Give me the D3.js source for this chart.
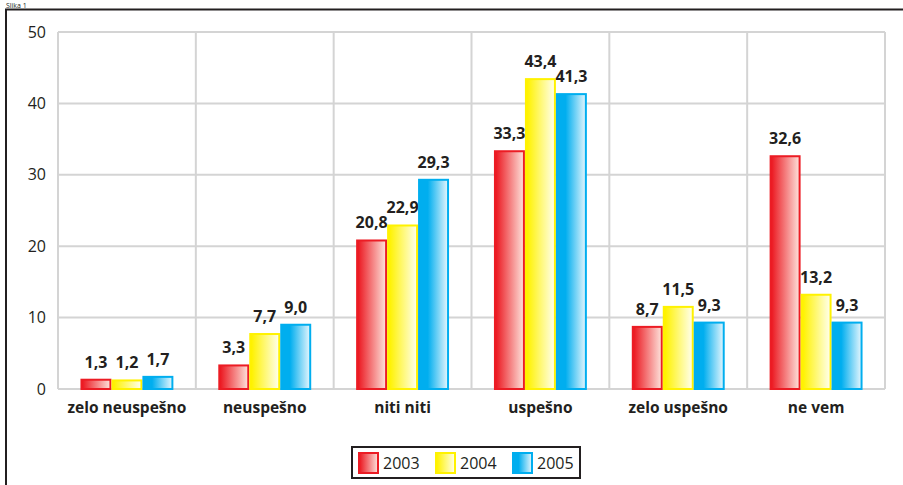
<!DOCTYPE html>
<html>
<head>
<meta charset="utf-8">
<script src="https://cdn.jsdelivr.net/npm/d3@7"></script>
<style>
  html, body { margin: 0; padding: 0; background: #fff; }
  svg { display: block; font-family: "Open Sans", "DejaVu Sans", sans-serif; }
</style>
</head>
<body>
<svg id="chart" width="903" height="485"></svg>
<script>
// Survey answers by year (percent)
const categories = ["zelo neuspešno", "neuspešno", "niti niti", "uspešno", "zelo uspešno", "ne vem"];
const years = ["2003", "2004", "2005"];
const values2003 = [1.3, 3.3, 20.8, 33.3, 8.7, 32.6];
const values2004 = [1.2, 7.7, 22.9, 43.4, 11.5, 13.2];
const values2005 = [1.7, 9.0, 29.3, 41.3, 9.3, 9.3];
const yTicks = [0, 10, 20, 30, 40, 50];

const seriesValues = [values2003, values2004, values2005];
const colors = ["#ec1c24", "#fff200", "#00aeef"];
const lightColors = ["#fde3dc", "#fffff0", "#e6f6fd"];

const svg = d3.select("#chart");
const fmt = v => d3.format(".1f")(v).replace(".", ",");

// Gradients: saturated on the left, fading to near white on the right
const defs = svg.append("defs");
years.forEach((yr, i) => {
  const g = defs.append("linearGradient").attr("id", "grad" + i)
    .attr("x1", "0%").attr("x2", "100%").attr("y1", "0%").attr("y2", "0%");
  g.append("stop").attr("offset", i === 2 ? "30%" : "5%").attr("stop-color", colors[i]);
  g.append("stop").attr("offset", "100%").attr("stop-color", lightColors[i]);
});

// Caption above the frame
svg.append("text").attr("x", 6).attr("y", 8).attr("font-size", 7).attr("fill", "#231f20").text("Slika 1");

// Outer frame
svg.append("path").attr("d", "M6,485 L6,9.5 L903,9.5")
  .attr("fill", "none").attr("stroke", "#231f20").attr("stroke-width", 2);

const plotLeft = 58, plotRight = 885, plotTop = 32, plotBottom = 389;

const x = d3.scaleBand().domain(categories).range([plotLeft, plotRight]).paddingInner(0).paddingOuter(0);
const y = d3.scaleLinear().domain([0, 50]).range([plotBottom, plotTop]);
const xInner = d3.scaleBand().domain(years).range([0, x.bandwidth()]).paddingOuter(0.725).paddingInner(0);

// Grid
const grid = svg.append("g").attr("stroke", "#d4d4d4").attr("stroke-width", 2);
yTicks.forEach(t => {
  grid.append("line").attr("x1", plotLeft).attr("x2", plotRight).attr("y1", y(t)).attr("y2", y(t));
});
categories.forEach(c => {
  grid.append("line").attr("x1", x(c)).attr("x2", x(c)).attr("y1", plotTop).attr("y2", plotBottom);
});
grid.append("line").attr("x1", plotRight).attr("x2", plotRight).attr("y1", plotTop).attr("y2", plotBottom);

// Y axis labels
const yAxis = svg.append("g").attr("transform", `translate(${plotLeft - 12},0)`)
  .call(d3.axisLeft(y).tickValues(yTicks).tickSize(0).tickPadding(0));
yAxis.select(".domain").remove();
yAxis.selectAll("text").attr("font-size", 16).attr("fill", "#231f20")
  .attr("font-family", "'Open Sans', sans-serif");

// X axis labels
const xAxis = svg.append("g").attr("transform", `translate(0,${plotBottom + 13})`)
  .call(d3.axisBottom(x).tickSize(0).tickPadding(0));
xAxis.select(".domain").remove();
xAxis.selectAll("text").attr("font-size", 15.5).attr("font-weight", "bold").attr("fill", "#231f20")
  .attr("font-family", "'Open Sans', sans-serif").attr("dy", "0.71em");

// Bars
years.forEach((yr, i) => {
  const g = svg.append("g");
  g.selectAll("rect").data(seriesValues[i]).enter().append("rect")
    .attr("x", (d, j) => x(categories[j]) + xInner(yr) + 1)
    .attr("y", d => y(d))
    .attr("width", xInner.bandwidth() - 2)
    .attr("height", d => y(0) - y(d))
    .attr("fill", `url(#grad${i})`)
    .attr("stroke", colors[i]).attr("stroke-width", 2);
  g.selectAll("text").data(seriesValues[i]).enter().append("text")
    .attr("x", (d, j) => x(categories[j]) + xInner(yr) + xInner.bandwidth() / 2)
    .attr("y", d => y(d) - 12)
    .attr("text-anchor", "middle")
    .attr("font-size", 16).attr("font-weight", "bold").attr("fill", "#231f20")
    .text(d => fmt(d));
});

// Legend
const lg = svg.append("g");
lg.append("rect").attr("x", 352).attr("y", 447).attr("width", 228).attr("height", 31)
  .attr("fill", "#fff").attr("stroke", "#231f20").attr("stroke-width", 2);
const lx = [359, 436, 513];
years.forEach((yr, i) => {
  lg.append("rect").attr("x", lx[i]).attr("y", 453).attr("width", 19).attr("height", 20)
    .attr("fill", `url(#grad${i})`).attr("stroke", colors[i]).attr("stroke-width", 2);
  lg.append("text").attr("x", lx[i] + 24).attr("y", 469).attr("font-size", 16)
    .attr("fill", "#231f20").text(yr);
});
</script>
</body>
</html>
